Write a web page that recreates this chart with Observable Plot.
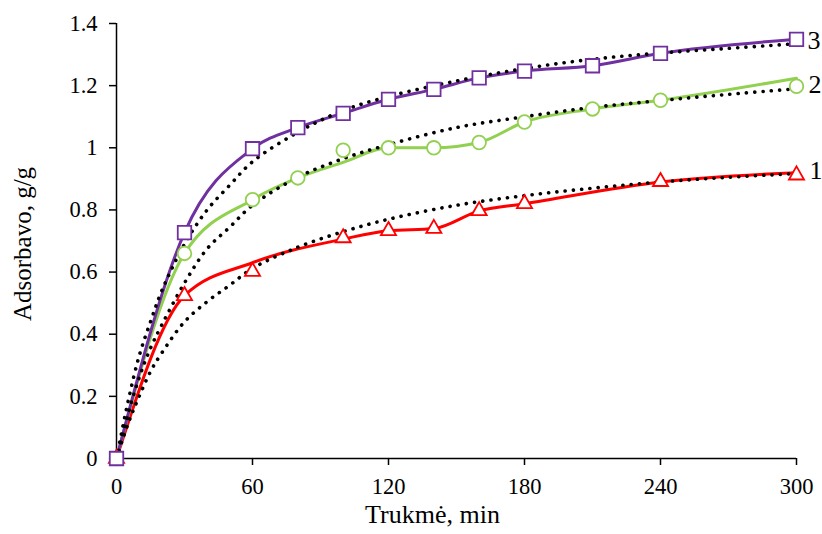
<!DOCTYPE html>
<html><head><meta charset="utf-8">
<script src="https://cdn.jsdelivr.net/npm/d3@7"></script>
<script src="https://cdn.jsdelivr.net/npm/@observablehq/plot@0.6"></script>
<style>body{margin:0;background:#fff}</style>
</head><body><div id="chart"></div>
<script>
// ---- data ----
const xTicks = [0, 60, 120, 180, 240, 300];
const yTicks = [0, 0.2, 0.4, 0.6, 0.8, 1, 1.2, 1.4];
const xTitle = "Trukmė, min";
const yTitle = "Adsorbavo, g/g";
const seriesLabels = ["1", "2", "3"];

const time1 = [0, 30, 60, 100, 120, 140, 160, 180, 240, 300];
const marker1 = [0, 0.524, 0.602, 0.71, 0.733, 0.74, 0.797, 0.82, 0.891, 0.912];
const line1 = [0, 0.524, 0.63, 0.706, 0.733, 0.74, 0.797, 0.82, 0.89, 0.92];

const time23 = [0, 30, 60, 80, 100, 120, 140, 160, 180, 210, 240, 300];
const marker2 = [0, 0.66, 0.833, 0.903, 0.992, 1.0, 1.0, 1.017, 1.083, 1.125, 1.153, 1.198];
const line2 = [0, 0.66, 0.833, 0.903, 0.953, 1.0, 1.0, 1.017, 1.083, 1.125, 1.153, 1.224];
const marker3 = [0, 0.727, 0.997, 1.065, 1.111, 1.156, 1.188, 1.225, 1.247, 1.264, 1.304, 1.349];
const line3 = [0, 0.727, 0.997, 1.065, 1.111, 1.156, 1.188, 1.225, 1.247, 1.264, 1.304, 1.349];

const modelTime = [0, 5, 10, 15, 20, 30, 40, 50, 60, 80, 100, 120, 150, 180, 210, 240, 270, 300];
const model1 = [0, 0.11, 0.2, 0.28, 0.34, 0.44, 0.505, 0.558, 0.612, 0.68, 0.73, 0.77, 0.815, 0.846, 0.87, 0.89, 0.905, 0.917];
const model2 = [0, 0.14, 0.26, 0.355, 0.43, 0.565, 0.675, 0.745, 0.815, 0.905, 0.965, 1.01, 1.065, 1.10, 1.13, 1.152, 1.172, 1.19];
const model3 = [0, 0.18, 0.33, 0.44, 0.54, 0.69, 0.80, 0.88, 0.955, 1.05, 1.12, 1.165, 1.215, 1.255, 1.285, 1.305, 1.32, 1.335];

// ---- build ----
const rows = (ts, vs) => ts.map((t, i) => ({t, v: vs[i]}));
const RED = "#FF0000", GREEN = "#92D050", PURPLE = "#7030A0";
const dotted = {x: "t", y: "v", stroke: "#000", strokeWidth: 3.6, strokeDasharray: "0.1 8.2", strokeLinecap: "round", curve: "catmull-rom"};
const solid = {x: "t", y: "v", strokeWidth: 3, curve: "monotone-x"};
const dots = {x: "t", y: "v", fill: "#fff", strokeWidth: 1.8};
const last = a => a[a.length - 1];

const chart = Plot.plot({
  width: 822, height: 534,
  marginLeft: 116, marginRight: 26, marginTop: 23, marginBottom: 76,
  style: {fontFamily: "'Liberation Serif','Times New Roman',serif", fontSize: "22.5px", background: "#fff", color: "#000", overflow: "visible"},
  x: {domain: [0, 300]},
  y: {domain: [0, 1.4]},
  marks: [
    Plot.axisX({ticks: xTicks, tickSize: 7, tickPadding: 13, strokeWidth: 1.5, label: null, fontSize: 22.5}),
    Plot.axisY({ticks: yTicks, tickSize: 7, tickPadding: 12, strokeWidth: 1.5, label: null, fontSize: 22.5, tickFormat: d => String(+d.toFixed(1))}),
    Plot.ruleX([0], {y1: 0, y2: 1.4, stroke: "#000", strokeWidth: 1.5}),
    Plot.ruleY([0], {x1: 0, x2: 300, stroke: "#000", strokeWidth: 1.5}),
    Plot.line(rows(time1, line1), {...solid, stroke: RED}),
    Plot.line(rows(time23, line2), {...solid, stroke: GREEN}),
    Plot.line(rows(time23, line3), {...solid, stroke: PURPLE}),
    Plot.line(rows(modelTime, model1), dotted),
    Plot.line(rows(modelTime, model2), dotted),
    Plot.line(rows(modelTime, model3), dotted),
    Plot.dot(rows(time1, marker1), {...dots, stroke: RED, symbol: "triangle", r: 5.6}),
    Plot.dot(rows(time23, marker2), {...dots, stroke: GREEN, symbol: "circle", r: 6.8}),
    Plot.dot(rows(time23, marker3), {...dots, stroke: PURPLE, symbol: "square", r: 7.6}),
    Plot.text([seriesLabels[0]], {x: 300, y: last(marker1), dx: 13, dy: -4, textAnchor: "start", fontSize: 26}),
    Plot.text([seriesLabels[1]], {x: 300, y: last(marker2), dx: 12, dy: -2, textAnchor: "start", fontSize: 26}),
    Plot.text([seriesLabels[2]], {x: 300, y: last(marker3), dx: 11, dy: 1, textAnchor: "start", fontSize: 26}),
    Plot.text([xTitle], {frameAnchor: "bottom", dx: -24, dy: 64, textAnchor: "middle", fontSize: 26}),
    Plot.text([yTitle], {frameAnchor: "left", dx: -94, dy: 3, rotate: -90, textAnchor: "middle", fontSize: 25})
  ]
});
document.getElementById("chart").appendChild(chart);
</script>
</body></html>
